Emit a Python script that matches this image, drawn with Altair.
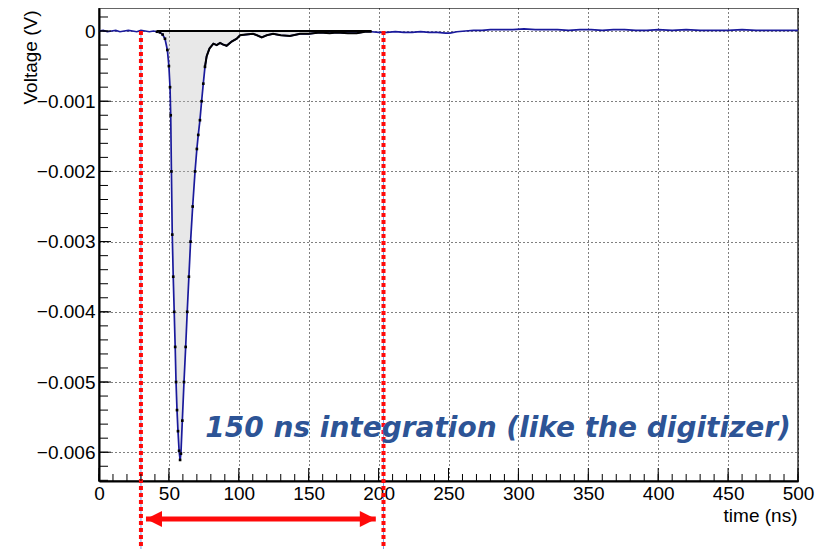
import altair as alt
import pandas as pd

# ---------------- data ----------------
t_wave = [0, 3, 6, 9, 12, 15, 18, 21, 24, 27, 30, 33, 36, 39, 41.5, 43.6, 45.5, 47.2, 48.9, 50.0,
          50.8, 51.3, 51.8, 52.4, 53.1, 53.8, 54.5, 55.1, 55.8, 56.5, 57.3, 58.0, 58.6, 59.6, 60.8,
          62.0, 63.1, 64.3, 65.5, 67.0, 68.7, 70.0, 71.0, 72.2, 73.4, 74.6, 75.8, 77.0, 79.0, 81.8,
          84.2, 86.6, 88.5, 91.3, 94.9, 98.5, 100.9, 105, 110.2, 113, 116.4, 120, 124.5, 130, 136.6,
          143.8, 150, 158.1, 165, 170, 178, 184.3, 190.3, 195, 200, 206, 212, 218, 224, 230, 236,
          242, 248, 251, 256, 262, 268, 274, 280, 288, 296, 304, 312, 320, 328, 336, 344, 352, 360,
          368, 376, 384, 392, 400, 410, 420, 430, 440, 450, 460, 470, 480, 490, 500]
v_wave = [0.0, 0.00001, -0.00001, 0.0, 0.00001, -0.00001, 0.0, 0.00001, 0.0, -0.00001, 0.00001,
          0.0, -0.00001, 0.0, -0.00001, -0.00002, -0.00005, -0.00011, -0.00027, -0.0005,
          -0.0008, -0.0012, -0.002, -0.0029, -0.0035, -0.004, -0.0045, -0.005, -0.0054, -0.0057,
          -0.00598, -0.00611, -0.00602, -0.00555, -0.005, -0.0045, -0.004, -0.0035, -0.003,
          -0.0025, -0.002, -0.00168, -0.00148, -0.00127, -0.001, -0.00075, -0.00051, -0.00036,
          -0.00025, -0.00018, -0.0002, -0.00017, -0.00019, -0.00021, -0.00015, -0.00011, -0.00006,
          -0.00005, -0.00004, -0.00006, -0.00009, -0.00006, -0.00004, -0.00006, -0.00007, -0.00004,
          -0.00004, -0.00002, -0.00003, -0.00002, -0.00003, -0.00003, -0.00001, -0.00001, -0.00002,
          -0.00002, -0.00001, -0.00002, -0.00002, -0.00001, -0.00002, -0.00002, -0.00003, -0.00003,
          -0.00001, 0.0, 0.00001, 0.00001, 0.00002, 0.00002, 0.00002, 0.00003, 0.00002, 0.00002,
          0.00002, 0.00001, 0.00002, 0.00002, 0.00001, 0.00002, 0.00002, 0.00001, 0.00001, 0.00002,
          0.00001, 0.00002, 0.00001, 0.00001, 0.00001, 0.00002, 0.00001, 0.00001, 0.00001, 0.00001]

fill_range = [41.5, 195]          # shaded integration histogram
tail_range = [75.8, 195]          # black histogram tail
marker_range = [41.5, 75.8]       # black markers on the pulse
red_lines = [30, 203.5]           # integration window limits (ns)
arrow_ends = [33.6, 198]          # double arrow below the axis (ns)
note_text = "150 ns integration (like the digitizer)"
note_pos = [76, -0.00578]

x_major = [0, 50, 100, 150, 200, 250, 300, 350, 400, 450, 500]
x_minor = list(range(0, 501, 10))
y_major = [-0.006, -0.005, -0.004, -0.003, -0.002, -0.001, 0.0]
y_minor = [round(-0.0064 + 0.0002 * i, 4) for i in range(34)]

# ---------------- layout ----------------
W, H = 699, 473
FONT = "Liberation Sans"

wave = pd.DataFrame({"t": t_wave, "v": v_wave})
wave["zero"] = 0.0

xscale = alt.Scale(domain=[0, 500], nice=False, zero=False)
yscale = alt.Scale(domain=[-0.00641, 0.000328], nice=False, zero=False)

xaxis = alt.Axis(values=x_major, grid=True, gridDash=[1, 3], gridColor="black", gridWidth=1,
                 gridOpacity=1, ticks=False, domainColor="black", domainWidth=2,
                 labelFont=FONT, labelFontSize=19, labelColor="black", labelPadding=3,
                 labelFlush=False, labelOverlap=False, title="time (ns)", titleFont=FONT,
                 titleFontSize=19, titleFontWeight="normal", titleColor="black",
                 titleX=698, titleY=40, titleAlign="right", titleBaseline="alphabetic",
                 titleAngle=0)
yaxis = alt.Axis(values=y_major, format="~g", grid=True, gridDash=[1, 3], gridColor="black",
                 gridWidth=1, gridOpacity=1, ticks=False, domainColor="black", domainWidth=2,
                 labelFont=FONT, labelFontSize=19, labelColor="black", labelPadding=4,
                 labelFlush=False, labelOverlap=False, title="Voltage (V)", titleFont=FONT,
                 titleFontSize=19, titleFontWeight="normal", titleColor="black",
                 titleX=-63, titleY=2, titleAlign="right", titleBaseline="alphabetic",
                 titleAngle=270)


def X(f="t"):
    return alt.X(f, type="quantitative", scale=xscale, axis=xaxis)


def Y(f="v"):
    return alt.Y(f, type="quantitative", scale=yscale, axis=yaxis)


base = alt.Chart(wave)

fill = base.transform_filter(
    (alt.datum.t >= fill_range[0]) & (alt.datum.t <= fill_range[1])
).mark_area(color="#bdbdbd", opacity=0.35).encode(x=X(), y=Y(), y2="zero")

blue = base.mark_line(color="#1a1a9c", strokeWidth=1.7).encode(x=X(), y=Y())

tail = base.transform_filter(
    (alt.datum.t >= tail_range[0]) & (alt.datum.t <= tail_range[1])
).mark_line(color="black", strokeWidth=2).encode(x=X(), y=Y())

top_edge = base.transform_filter(
    (alt.datum.t >= fill_range[0]) & (alt.datum.t <= fill_range[1])
).mark_line(color="black", strokeWidth=2).encode(x=X(), y=Y("zero"))

markers = base.transform_filter(
    (alt.datum.t >= marker_range[0]) & (alt.datum.t <= marker_range[1])
).mark_point(shape="square", size=7, filled=True, color="black", opacity=1).encode(x=X(), y=Y())

red_df = pd.DataFrame({"t": red_lines, "v": [0.0, 0.0]})
red_blue = alt.Chart(red_df).mark_rule(color="#7a9be0", strokeWidth=1).encode(
    x=X(), y=Y(), y2=alt.value(H + 80))
red = alt.Chart(red_df).mark_rule(color="#ff0a0a", strokeWidth=4, strokeDash=[4, 3]).encode(
    x=X(), y=Y(), y2=alt.value(H + 80))

# ticks (ROOT style, inward)
xt_major = alt.Chart(pd.DataFrame({"t": x_major})).mark_rule(color="black", strokeWidth=1).encode(
    x=X(), y=alt.value(H), y2=alt.value(H - 13))
xt_minor = alt.Chart(pd.DataFrame({"t": x_minor})).mark_rule(color="black", strokeWidth=1).encode(
    x=X(), y=alt.value(H), y2=alt.value(H - 7))
yt_major = alt.Chart(pd.DataFrame({"v": y_major})).mark_rule(color="black", strokeWidth=1).encode(
    y=Y(), x=alt.value(0), x2=alt.value(12))
yt_minor = alt.Chart(pd.DataFrame({"v": y_minor})).mark_rule(color="black", strokeWidth=1).encode(
    y=Y(), x=alt.value(0), x2=alt.value(9))

# arrow
ARROW_Y = H + 38
arr_df = pd.DataFrame({"t": [arrow_ends[0]], "t2": [arrow_ends[1]]})
arrow_line = alt.Chart(arr_df).mark_rule(color="#ff0a0a", strokeWidth=5).encode(
    x=X(), x2="t2", y=alt.value(ARROW_Y))
head_l = alt.Chart(pd.DataFrame({"t": [arrow_ends[0]]})).mark_point(
    shape="M -1 0 L 1 -1 L 1 1 Z", size=256, filled=True, color="#ff0a0a", opacity=1,
    xOffset=8).encode(x=X(), y=alt.value(ARROW_Y))
head_r = alt.Chart(pd.DataFrame({"t": [arrow_ends[1]]})).mark_point(
    shape="M 1 0 L -1 -1 L -1 1 Z", size=256, filled=True, color="#ff0a0a", opacity=1,
    xOffset=-8).encode(x=X(), y=alt.value(ARROW_Y))

note = alt.Chart(pd.DataFrame({"t": [note_pos[0]], "v": [note_pos[1]], "label": [note_text]})).mark_text(
    font="DejaVu Sans", fontSize=28, fontWeight="bold", fontStyle="italic", color="#2d5496",
    align="left", baseline="alphabetic").encode(x=X(), y=Y(), text="label")

chart = alt.layer(
    fill, blue, tail, top_edge, markers, red_blue, red,
    xt_major, xt_minor, yt_major, yt_minor, arrow_line, head_l, head_r, note
).properties(
    width=W, height=H,
    autosize=alt.AutoSizeParams(type="none"),
    padding={"left": 91, "top": 0, "right": 25, "bottom": 70},
    background="white",
).configure_view(stroke="#333333", strokeWidth=1.5)

chart.save("out.html", embed_options={"renderer": "svg", "actions": False})
